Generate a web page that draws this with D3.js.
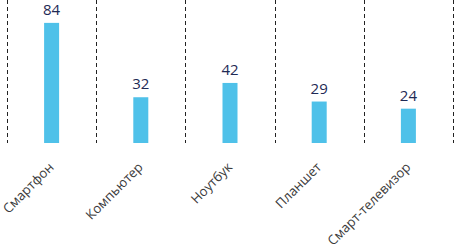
<!DOCTYPE html>
<html>
<head>
<meta charset="utf-8">
<script src="https://cdn.jsdelivr.net/npm/d3@7"></script>
<style>
  body { margin: 0; background: #fff; }
  svg { display: block; font-family: "Open Sans", sans-serif; }
</style>
</head>
<body>
<div id="chart"></div>
<script>
// data
const categories = ["Смартфон", "Компьютер", "Ноутбук", "Планшет", "Смарт-телевизор"];
const values = [84, 32, 42, 29, 24];

const width = 454, height = 249;
const margin = {top: 0, left: 7, right: 1, bottom: 106};
const plotH = height - margin.top - margin.bottom;

const svg = d3.select("#chart")
  .append("svg")
    .attr("width", width)
    .attr("height", height);

const x = d3.scaleBand()
  .domain(categories)
  .range([margin.left, width - margin.right]);

const y = d3.scaleLinear()
  .domain([0, 100])
  .range([margin.top + plotH, margin.top + plotH - 143]);

// dashed separators
const seps = categories.map(c => x(c)).concat([x.range()[1]]);
svg.selectAll("line.sep")
  .data(seps)
  .join("line")
    .attr("class", "sep")
    .attr("x1", d => Math.round(d) + 0.5)
    .attr("x2", d => Math.round(d) + 0.5)
    .attr("y1", 0)
    .attr("y2", margin.top + plotH)
    .attr("stroke", "#222")
    .attr("stroke-width", 1)
    .attr("stroke-dasharray", "4,3");

const barW = 15;
svg.selectAll("rect")
  .data(values)
  .join("rect")
    .attr("x", (d, i) => x(categories[i]) + x.bandwidth() / 2 - barW / 2)
    .attr("y", d => y(d))
    .attr("width", barW)
    .attr("height", d => y(0) - y(d))
    .attr("fill", "#4fc1e9");

// value labels
svg.selectAll("text.val")
  .data(values)
  .join("text")
    .attr("class", "val")
    .attr("x", (d, i) => x(categories[i]) + x.bandwidth() / 2)
    .attr("y", d => y(d) - 8)
    .attr("text-anchor", "middle")
    .attr("font-size", 15)
    .attr("fill", "#1f2a55")
    .text(d => d);

// category labels
svg.selectAll("text.cat")
  .data(categories)
  .join("text")
    .attr("class", "cat")
    .attr("text-anchor", "end")
    .attr("font-size", 13.2)
    .attr("fill", "#3a3a3a")
    .attr("transform", d => `translate(${x(d) + x.bandwidth() / 2 + 3},${y(0) + 25}) rotate(-45)`)
    .text(d => d);
</script>
</body>
</html>
